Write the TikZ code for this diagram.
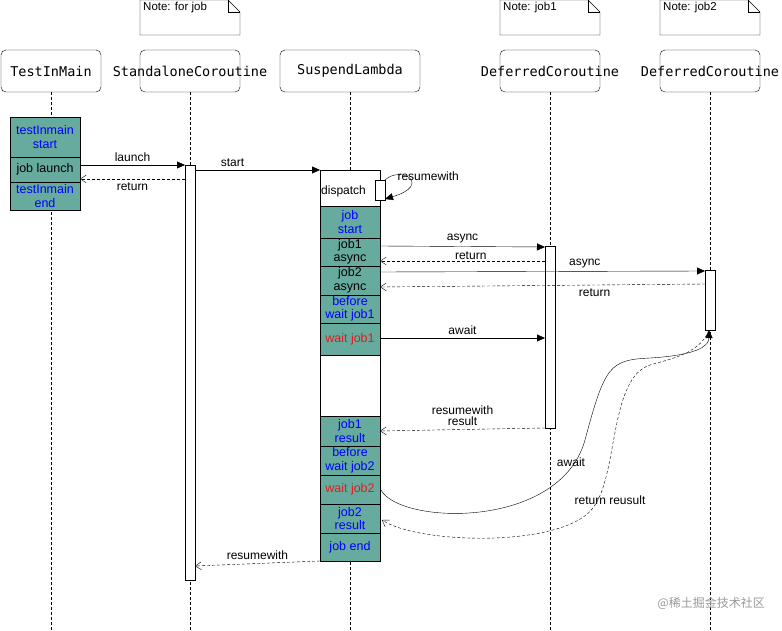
\documentclass[tikz,border=0pt]{standalone}
\usepackage{fontspec}
\setmainfont{Liberation Sans}
\newfontfamily\hdrfont{DejaVu Sans Mono}
\newfontfamily\cjkf{Noto Sans CJK SC}
\usetikzlibrary{arrows.meta,shapes.misc}
\definecolor{tealc}{HTML}{67AB9F}
\definecolor{bluet}{HTML}{0000FF}
\definecolor{redt}{HTML}{E51A1A}
\begin{document}
\begin{tikzpicture}[x=1pt,y=-1pt,font=\fontsize{12}{13}\selectfont,
 hdr/.style={draw,rounded corners=5pt,minimum width=100pt,minimum height=42pt,inner sep=0},
 htx/.style={font=\hdrfont\fontsize{13.5}{15}\selectfont,inner sep=0},
 life/.style={densely dashed},
 act/.style={draw,fill=white,inner sep=0},
 blk/.style={draw,fill=tealc,inner sep=0,align=center,font=\fontsize{12.5}{13.5}\selectfont},
 msg/.style={-{Triangle[length=8pt,width=7pt]}},
 ret/.style={densely dashed,-{Straight Barb[length=6pt,width=8pt]}},
 lbl/.style={font=\fontsize{12}{13}\selectfont,align=center}]
\useasboundingbox (0,0) rectangle (782,631);
% notes
\foreach \n/\x/\t in {n1/140/Note: for job,n2/500/Note: job1,n3/660/Note: job2}{
 \draw[fill=white] (\x,0) -- (\x+88,0) -- (\x+100,12) -- (\x+100,35) -- (\x,35) -- cycle;
 \draw (\x+88,0) -- (\x+88,12) -- (\x+100,12);
 \node[anchor=west,font=\fontsize{11.5}{12}\selectfont,inner sep=0] (\n) at (\x+3,8) {\t};
}
% headers
\node[hdr] (h1) at (51,71) {};
\node[hdr] (h2) at (190,71) {};
\node[hdr,minimum width=140pt] (h3) at (350,71) {};
\node[hdr] (h4) at (550,71) {};
\node[hdr] (h5) at (710,71) {};
\node[htx] (t1) at (h1) {TestInMain};
\node[htx] (t2) at (h2) {StandaloneCoroutine};
\node[htx] (t3) at (h3) {SuspendLambda};
\node[htx] (t4) at (h4) {DeferredCoroutine};
\node[htx] (t5) at (h5) {DeferredCoroutine};
\coordinate (e1) at (51,631); \coordinate (e2) at (190,631); \coordinate (e3) at (350,631);
\coordinate (e4) at (550,631); \coordinate (e5) at (710,631);
\draw[life] (h1.south) -- (e1);
\draw[life] (h2.south) -- (e2);
\draw[life] (h3.south) -- (e3);
\draw[life] (h4.south) -- (e4);
\draw[life] (h5.south) -- (e5);
% TestInMain blocks
\node[blk,minimum width=70pt,minimum height=40pt] (a1) at (45,137) {\textcolor{bluet}{testInmain}\\\textcolor{bluet}{start}};
\node[blk,minimum width=70pt,minimum height=25pt] (a2) at (45,169.5) {job launch};
\node[blk,minimum width=70pt,minimum height=28pt] (a3) at (45,196) {\textcolor{bluet}{testInmain}\\\textcolor{bluet}{end}};
% Standalone activation
\node[act,minimum width=10pt,minimum height=415pt] (s1) at (190,372.5) {};
% Suspend activation
\node[act,minimum width=60pt,minimum height=391pt] (p0) at (350,365.5) {};
\node[anchor=west,inner sep=0] (dl) at (321,191) {dispatch};
\node[act,minimum width=10pt,minimum height=20pt] (sm) at (380,190) {};
\foreach \n/\y/\h/\t in {
 p1/206/32/{\textcolor{bluet}{job}\\\textcolor{bluet}{start}},
 p2/238/28/{job1\\async},
 p3/266/29/{job2\\async},
 p4/295/28/{\textcolor{bluet}{before}\\\textcolor{bluet}{wait job1}},
 p5/323/32/{\textcolor{redt}{wait job1}},
 p6/416/30/{\textcolor{bluet}{job1}\\\textcolor{bluet}{result}},
 p7/446/29/{\textcolor{bluet}{before}\\\textcolor{bluet}{wait job2}},
 p8/475/29/{\textcolor{redt}{wait job2}},
 p9/504/29/{\textcolor{bluet}{job2}\\\textcolor{bluet}{result}},
 p10/533/28/{\textcolor{bluet}{job end}}}{
 \node[blk,minimum width=60pt,minimum height=\h pt] (\n) at (350,\y+\h/2) {\t};
}
% Deferred activations
\node[act,minimum width=10pt,minimum height=182pt] (d1) at (550,337) {};
\node[act,minimum width=10pt,minimum height=60pt] (d2) at (710,300) {};
% messages
\draw[msg] (80,165) -- node[lbl,above] {launch} (185,165);
\draw[ret] (185,179) -- node[lbl,below] {return} (80,179);
\draw[msg] (195,170) -- node[lbl,above,pos=0.3] {start} (320,170);
\draw[msg] (sm.north east) .. controls (402,165) and (432,185) .. (385,199);
\node[lbl,anchor=west] (rw) at (394,176) {resumewith};
\draw[msg] (380,246) -- node[lbl,above] {async} (545,247);
\draw[ret] (545,261) -- node[lbl,above,pos=0.45,yshift=-2pt] {return} (380,261);
\draw[msg] (380,272) -- node[lbl,above,pos=0.63] {async} (705,271);
\draw[ret] (705,284) -- node[lbl,below,pos=0.34] {return} (380,287);
\draw[msg] (380,338) -- node[lbl,above] {await} (545,338);
\draw[ret] (545,428) -- node[lbl,above] {resumewith\\[-2pt]result} (380,431);
\coordinate (q2) at (709,330);
\draw[msg] (381,490) .. controls (400,525) and (560,530) .. (585,440) .. controls (605,365) and (610,360) .. (650,358) .. controls (700,355) and (709,345) .. (q2);
\node[lbl] (aw) at (571,462) {await};
\draw[ret] (q2) .. controls (700,355) and (665,360) .. (650,365) .. controls (610,378) and (618,470) .. (595,505) .. controls (570,548) and (420,545) .. (382,520);
\node[lbl] (rr) at (610,500) {return reusult};
\draw[ret] (320,561) -- node[lbl,above] {resumewith} (195,566);
\node[anchor=east,text=black!40,font=\cjkf\fontsize{12}{13}\selectfont,inner sep=0] (wm) at (765,603) {@稀土掘金技术社区};
\end{tikzpicture}
\end{document}
